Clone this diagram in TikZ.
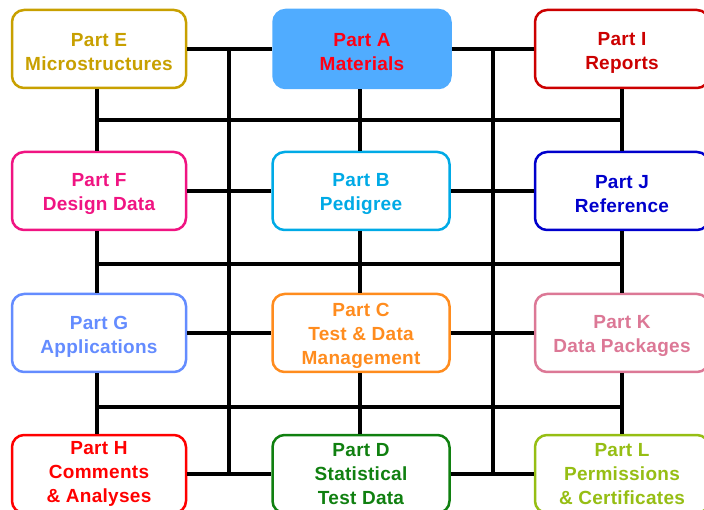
\documentclass[tikz,border=0pt]{standalone}
\usepackage{fontspec}
\setmainfont{Liberation Sans}[LetterSpace=1.5]
\definecolor{cE}{RGB}{200,160,0}
\definecolor{cAfill}{RGB}{80,172,255}
\definecolor{cAtext}{RGB}{255,0,20}
\definecolor{cI}{RGB}{204,0,0}
\definecolor{cF}{RGB}{240,20,130}
\definecolor{cB}{RGB}{0,170,230}
\definecolor{cJ}{RGB}{0,0,204}
\definecolor{cG}{RGB}{100,140,255}
\definecolor{cC}{RGB}{255,140,30}
\definecolor{cK}{RGB}{220,120,150}
\definecolor{cH}{RGB}{255,0,0}
\definecolor{cD}{RGB}{16,128,16}
\definecolor{cL}{RGB}{150,190,20}
\newcommand\topstrut{\rule{0pt}{20pt}}
\begin{document}
\begin{tikzpicture}[x=1pt,y=-1pt,
  part/.style={draw=#1, text=#1, fill=white, line width=2.5pt, rounded corners=12pt,
    minimum width=174pt, minimum height=78pt, inner sep=0pt, align=center,
    font=\fontsize{19}{24}\selectfont\bfseries},
  midpart/.style={part=#1, minimum width=177pt},
  wire/.style={line width=3.5pt, draw=black}]
\useasboundingbox (0,0) rectangle (704,510);
\clip (0,0) rectangle (704,510);

% boxes
\node[part=cE] (E) at (99,49) {\topstrut Part E\\Microstructures};
\node[midpart=cAfill, fill=cAfill, text=cAtext] (A) at (362,49) {\topstrut Part A\\Materials};
\node[part=cI] (I) at (622,49) {\topstrut Part I\\Reports};
\node[part=cF] (F) at (99,191) {\topstrut Part F\\Design Data};
\node[midpart=cB] (B) at (361,191) {\topstrut Part B\\Pedigree};
\node[part=cJ] (J) at (622,191) {\topstrut Part J\\Reference};
\node[part=cG] (G) at (99,333) {\topstrut Part G\\Applications};
\node[midpart=cC] (C) at (361,333) {\topstrut Part C\\Test \& Data\\Management};
\node[part=cK] (K) at (622,333) {\topstrut Part K\\Data Packages};
\node[part=cH] (H) at (99,474) {Part H\\Comments\\\& Analyses};
\node[midpart=cD] (D) at (361,474) {Part D\\Statistical\\Test Data};
\node[part=cL] (L) at (622,474) {Part L\\Permissions\\\& Certificates};

% coordinates for bus lines
\coordinate (v1t) at (229,48);
\coordinate (v1b) at (229,472);
\coordinate (v2t) at (493,48);
\coordinate (v2b) at (493,472);
\coordinate (h1l) at (97,120);
\coordinate (h1r) at (622,120);
\coordinate (h2l) at (97,264);
\coordinate (h2r) at (622,264);
\coordinate (h3l) at (97,407);
\coordinate (h3r) at (622,407);

% row connectors
\draw[wire] (E.east) -- (A.west);
\draw[wire] (A.east) -- (I.west);
\draw[wire] (F.east) -- (B.west);
\draw[wire] (B.east) -- (J.west);
\draw[wire] (G.east) -- (C.west);
\draw[wire] (C.east) -- (K.west);
\draw[wire] (H.east) -- (D.west);
\draw[wire] (D.east) -- (L.west);

% column connectors
\draw[wire] (E.south -| h1l) -- (F.north -| h1l);
\draw[wire] (F.south -| h1l) -- (G.north -| h1l);
\draw[wire] (G.south -| h1l) -- (H.north -| h1l);
\draw[wire] (A.south -| 360,0) -- (B.north -| 360,0);
\draw[wire] (B.south -| 360,0) -- (C.north -| 360,0);
\draw[wire] (C.south -| 360,0) -- (D.north -| 360,0);
\draw[wire] (I.south) -- (J.north);
\draw[wire] (J.south) -- (K.north);
\draw[wire] (K.south) -- (L.north);

% vertical buses
\draw[wire] (v1t) -- (v1b);
\draw[wire] (v2t) -- (v2b);

% horizontal buses
\draw[wire] (h1l) -- (h1r);
\draw[wire] (h2l) -- (h2r);
\draw[wire] (h3l) -- (h3r);
\end{tikzpicture}
\end{document}
